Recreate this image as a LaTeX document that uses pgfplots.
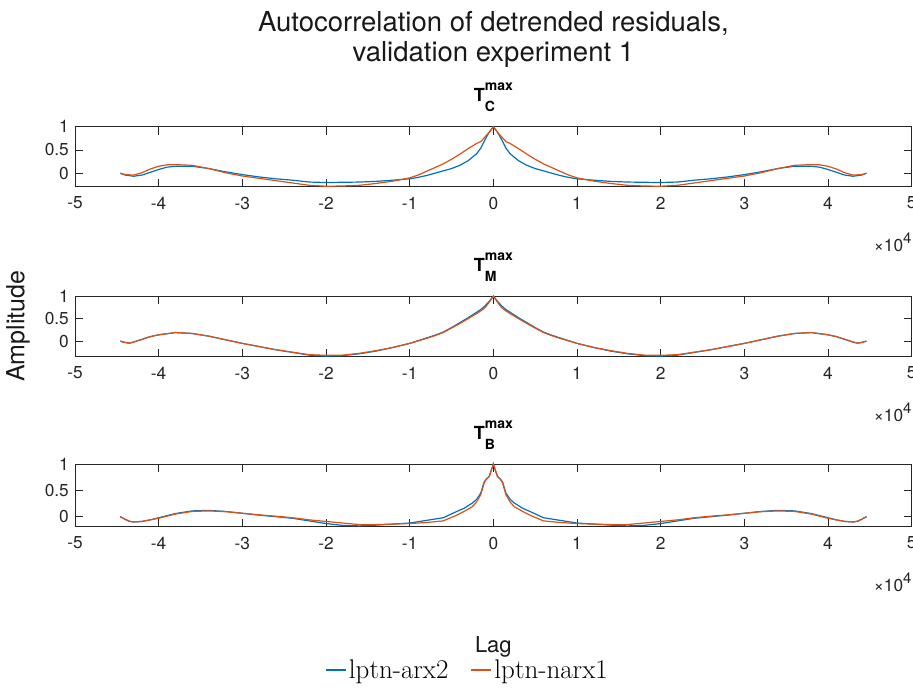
\documentclass[border=0pt]{standalone}
\usepackage{fontspec}
\setsansfont{TeX Gyre Heros}
\usepackage{pgfplots}
\pgfplotsset{compat=1.18}
\usepackage{pgfplotstable}
\definecolor{mblue}{rgb}{0,0.447,0.741}
\definecolor{morange}{rgb}{0.85,0.325,0.098}
\definecolor{axgray}{rgb}{0.15,0.15,0.15}

\pgfplotstableread{
lag arx narx
-44600 0.00 0.00
-44000 -0.04 -0.03
-43000 -0.065 -0.04
-42000 -0.04 0.01
-41000 0.02 0.09
-40000 0.08 0.15
-39000 0.13 0.18
-38000 0.15 0.185
-36000 0.15 0.17
-34000 0.10 0.10
-32000 0.03 0.01
-30000 -0.03 -0.06
-28000 -0.08 -0.11
-26000 -0.12 -0.16
-24000 -0.15 -0.21
-22000 -0.19 -0.26
-20000 -0.20 -0.28
-18000 -0.195 -0.275
-16000 -0.19 -0.26
-14000 -0.175 -0.22
-12000 -0.15 -0.17
-10000 -0.12 -0.10
-9000 -0.09 -0.04
-8000 -0.05 0.04
-7000 0.00 0.12
-6000 0.05 0.20
-5000 0.10 0.30
-4000 0.17 0.41
-3000 0.27 0.53
-2000 0.42 0.64
-1500 0.54 0.68
-1000 0.72 0.78
-500 0.88 0.88
0 1.00 1.00
500 0.88 0.88
1000 0.72 0.78
1500 0.54 0.68
2000 0.42 0.64
3000 0.27 0.53
4000 0.17 0.41
5000 0.10 0.30
6000 0.05 0.20
7000 0.00 0.12
8000 -0.05 0.04
9000 -0.09 -0.04
10000 -0.12 -0.10
12000 -0.15 -0.17
14000 -0.175 -0.22
16000 -0.19 -0.26
18000 -0.195 -0.275
20000 -0.20 -0.28
22000 -0.19 -0.26
24000 -0.15 -0.21
26000 -0.12 -0.16
28000 -0.08 -0.11
30000 -0.03 -0.06
32000 0.03 0.01
34000 0.10 0.10
36000 0.15 0.17
38000 0.15 0.185
39000 0.13 0.18
40000 0.08 0.15
41000 0.02 0.09
42000 -0.04 0.01
43000 -0.065 -0.04
44000 -0.04 -0.03
44600 0.00 0.00
}\TC

\pgfplotstableread{
lag arx narx
-44600 0.00 0.00
-44000 -0.03 -0.03
-43500 -0.045 -0.045
-43000 -0.02 -0.02
-42000 0.04 0.04
-41000 0.10 0.10
-40000 0.14 0.14
-38000 0.19 0.19
-36000 0.17 0.17
-34000 0.11 0.11
-32000 0.03 0.03
-30000 -0.05 -0.05
-28000 -0.12 -0.12
-26000 -0.19 -0.19
-24000 -0.25 -0.245
-22000 -0.31 -0.30
-20000 -0.33 -0.315
-18000 -0.32 -0.31
-16000 -0.28 -0.27
-14000 -0.22 -0.21
-12000 -0.14 -0.14
-10000 -0.05 -0.05
-8000 0.07 0.06
-7000 0.13 0.12
-6000 0.20 0.19
-5000 0.30 0.29
-4000 0.41 0.39
-3000 0.52 0.50
-2000 0.64 0.61
-1500 0.70 0.67
-1000 0.78 0.74
-500 0.88 0.86
0 1.00 1.00
500 0.88 0.86
1000 0.78 0.74
1500 0.70 0.67
2000 0.64 0.61
3000 0.52 0.50
4000 0.41 0.39
5000 0.30 0.29
6000 0.20 0.19
7000 0.13 0.12
8000 0.07 0.06
10000 -0.05 -0.05
12000 -0.14 -0.14
14000 -0.22 -0.21
16000 -0.28 -0.27
18000 -0.32 -0.31
20000 -0.33 -0.315
22000 -0.31 -0.30
24000 -0.25 -0.245
26000 -0.19 -0.19
28000 -0.12 -0.12
30000 -0.05 -0.05
32000 0.03 0.03
34000 0.11 0.11
36000 0.17 0.17
38000 0.19 0.19
40000 0.14 0.14
41000 0.10 0.10
42000 0.04 0.04
43000 -0.02 -0.02
43500 -0.045 -0.045
44000 -0.03 -0.03
44600 0.00 0.00
}\TM

\pgfplotstableread{
lag arx narx
-44600 0.00 0.00
-44000 -0.05 -0.05
-43500 -0.09 -0.085
-43000 -0.10 -0.10
-42000 -0.09 -0.09
-41000 -0.06 -0.06
-40000 -0.02 -0.03
-38000 0.06 0.05
-36000 0.11 0.10
-34000 0.12 0.11
-32000 0.10 0.095
-30000 0.065 0.065
-28000 0.03 0.035
-26000 0.00 0.01
-24000 -0.03 -0.02
-22000 -0.08 -0.06
-20000 -0.13 -0.09
-18000 -0.165 -0.12
-16000 -0.175 -0.15
-14000 -0.16 -0.15
-12000 -0.14 -0.14
-10000 -0.12 -0.13
-8000 -0.07 -0.11
-6000 -0.02 -0.08
-4500 0.09 0.02
-3500 0.16 0.10
-2500 0.26 0.19
-2000 0.33 0.28
-1500 0.45 0.42
-1100 0.66 0.64
-800 0.72 0.72
-500 0.76 0.76
-200 0.90 0.90
0 1.00 1.00
200 0.90 0.90
500 0.76 0.76
800 0.72 0.72
1100 0.66 0.64
1500 0.45 0.42
2000 0.33 0.28
2500 0.26 0.19
3500 0.16 0.10
4500 0.09 0.02
6000 -0.02 -0.08
8000 -0.07 -0.11
10000 -0.12 -0.13
12000 -0.14 -0.14
14000 -0.16 -0.15
16000 -0.175 -0.15
18000 -0.165 -0.12
20000 -0.13 -0.09
22000 -0.08 -0.06
24000 -0.03 -0.02
26000 0.00 0.01
28000 0.03 0.035
30000 0.065 0.065
32000 0.10 0.095
34000 0.12 0.11
36000 0.11 0.10
38000 0.06 0.05
40000 -0.02 -0.03
41000 -0.06 -0.06
42000 -0.09 -0.09
43000 -0.10 -0.10
43500 -0.09 -0.085
44000 -0.05 -0.05
44600 0.00 0.00
}\TB

\newcommand{\tfont}{\sffamily\fontsize{17.3}{20}\selectfont}
\newcommand{\ptitle}[1]{\textbf{T}\rlap{\raisebox{-10pt}{\fontsize{14}{14}\selectfont\bfseries #1}}\raisebox{11pt}{\fontsize{14}{14}\selectfont\bfseries max}}
\newcommand{\scalelab}{×10\raisebox{0.5em}{\fontsize{15}{15}\selectfont 4}}

\pgfplotsset{
  panel/.style={
    scale only axis, width=836.7pt,
    xmin=-50000, xmax=50000, ymax=1,
    xtick={-50000,-40000,-30000,-20000,-10000,0,10000,20000,30000,40000,50000},
    xticklabels={-5,-4,-3,-2,-1,0,1,2,3,4,5},
    scaled x ticks=false, scaled y ticks=false,
    ytick={0,0.5,1},
    yticklabels={0,0.5,1},
    tick label style={font=\tfont, text=axgray, inner sep=0pt},
    xticklabel style={yshift=-10pt},
    yticklabel style={xshift=-6pt},
    tick align=inside, major tick length=8pt,
    axis line style={draw=axgray, line width=0.8pt},
    tick style={draw=axgray, line width=0.8pt},
    title style={font=\sffamily\fontsize{18}{20}\selectfont, at={(0.5,1)}, anchor=south, yshift=8.4pt, inner sep=0pt},
    every axis plot/.append style={line width=1.2pt, no markers},
    clip=false,
  }
}

\begin{document}
\begin{tikzpicture}
\useasboundingbox (0pt,0pt) rectangle (913pt,-691pt);

\begin{axis}[panel, at={(75pt,-186.7pt)}, anchor=south west, height=60pt, ymin=-0.29,
  title={\ptitle{C}}]
  \addplot[mblue] table[x=lag, y=arx] {\TC};
  \addplot[morange] table[x=lag, y=narx] {\TC};
  \node[font=\sffamily\fontsize{27.5}{30}\selectfont, align=center, anchor=south, inner sep=0pt, text=black!90] at (rel axis cs:0.5,1) [yshift=59pt] {Autocorrelation of detrended residuals,\\validation experiment 1};
  \node[font=\tfont, text=axgray, anchor=base east, inner sep=0pt] at (rel axis cs:1,0) [yshift=-65pt] {\scalelab};
\end{axis}

\begin{axis}[panel, at={(75pt,-356.7pt)}, anchor=south west, height=60.7pt, ymin=-0.345,
  title={\ptitle{M}}]
  \addplot[mblue] table[x=lag, y=arx] {\TM};
  \addplot[morange] table[x=lag, y=narx] {\TM};
  \node[font=\sffamily\fontsize{25}{28}\selectfont, xshift=-57pt, rotate=90, anchor=center, text=black!90] at (rel axis cs:0,0.5) {Amplitude};
  \node[font=\tfont, text=axgray, anchor=base east, inner sep=0pt] at (rel axis cs:1,0) [yshift=-65pt] {\scalelab};
\end{axis}

\begin{axis}[panel, at={(75pt,-526.7pt)}, anchor=south west, height=62.7pt, ymin=-0.19,
  title={\ptitle{B}},
  legend style={at={(rel axis cs:0.5,0)}, anchor=center, xshift=-26pt, yshift=-143pt, draw=none, fill=none, font=\rmfamily\fontsize{27}{30}\selectfont, legend columns=2, /tikz/every even column/.append style={column sep=20pt}},
  legend image code/.code={\draw[#1, line width=2pt] (0pt,0pt) -- (20pt,0pt);}]
  \addplot[mblue] table[x=lag, y=arx] {\TB};
  \addplot[morange] table[x=lag, y=narx] {\TB};
  \legend{lptn-arx2, lptn-narx1}
  \node[font=\sffamily\fontsize{22}{26}\selectfont, anchor=center, text=black!90] at (rel axis cs:0.5,0) [yshift=-120pt] {Lag};
  \node[font=\tfont, text=axgray, anchor=base east, inner sep=0pt] at (rel axis cs:1,0) [yshift=-65pt] {\scalelab};
\end{axis}
\end{tikzpicture}
\end{document}
